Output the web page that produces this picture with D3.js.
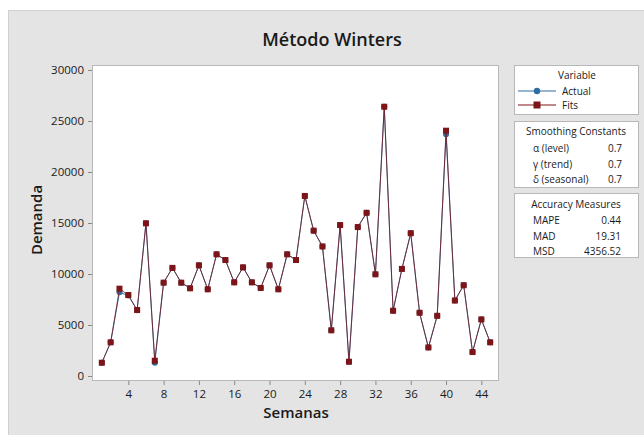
<!DOCTYPE html>
<html>
<head>
<meta charset="utf-8">
<script src="https://cdn.jsdelivr.net/npm/d3@7"></script>
<style>
  body { margin: 0; background: #fff; }
  text { font-family: "Open Sans", "Noto Sans", sans-serif; fill: #1a1a1a; }
</style>
</head>
<body>
<svg id="chart" width="644" height="435"></svg>
<script>
const periods = d3.range(1, 46);
const actual = [1300, 3300, 8200, 7900, 6450, 14970, 1300, 9150, 10600, 9150,
  8600, 10850, 8500, 11930, 11370, 9180, 10650, 9180, 8630, 10850,
  8500, 11930, 11370, 17650, 14250, 12700, 4480, 14800, 1400, 14600,
  16000, 9970, 26400, 6400, 10500, 14000, 6200, 2800, 5900, 23700,
  7400, 8900, 2350, 5550, 3300];
const fits = [1300, 3300, 8560, 7940, 6470, 14970, 1500, 9150, 10600, 9150,
  8600, 10850, 8500, 11930, 11370, 9180, 10650, 9180, 8630, 10850,
  8500, 11930, 11370, 17650, 14250, 12700, 4480, 14800, 1400, 14600,
  16000, 9970, 26400, 6400, 10500, 14000, 6200, 2800, 5900, 24050,
  7400, 8900, 2350, 5550, 3300];
const xTicks = [4, 8, 12, 16, 20, 24, 28, 32, 36, 40, 44];
const yTicks = [0, 5000, 10000, 15000, 20000, 25000, 30000];
const smoothing = [["α (level)", "0.7"], ["γ (trend)", "0.7"], ["δ (seasonal)", "0.7"]];
const accuracy = [["MAPE", "0.44"], ["MAD", "19.31"], ["MSD", "4356.52"]];

const ACTUAL_COLOR = "#2f6da3";
const FITS_COLOR = "#7d1518";

const svg = d3.select("#chart");

// gray panel
svg.append("rect")
  .attr("x", 8.5).attr("y", 10.5)
  .attr("width", 640).attr("height", 430)
  .attr("fill", "#e4e4e4")
  .attr("stroke", "#d0d0d0");

const x = d3.scaleLinear().domain([0, 46]).range([93, 499]);
const y = d3.scaleLinear().domain([-490, 30490]).range([381, 65]);

svg.append("rect")
  .attr("x", 92.5).attr("y", 65.5)
  .attr("width", 406).attr("height", 315)
  .attr("fill", "#fff")
  .attr("stroke", "#b8b8b8");

const xAxis = svg.append("g")
  .attr("transform", "translate(0,381)")
  .call(d3.axisBottom(x).tickValues(xTicks).tickSize(4).tickPadding(5));
const yAxis = svg.append("g")
  .attr("transform", "translate(92,0)")
  .call(d3.axisLeft(y).tickValues(yTicks).tickSize(4).tickPadding(4).tickFormat(d3.format("d")));

[xAxis, yAxis].forEach((g) => {
  g.select(".domain").remove();
  g.selectAll("line").attr("stroke", "#888");
  g.selectAll("text")
    .attr("font-size", 11.5)
    .attr("fill", "#1a1a1a")
    .style("font-family", "'Open Sans', 'Noto Sans', sans-serif");
});

const line = d3.line().x((d) => x(d[0])).y((d) => y(d[1]));

svg.append("path")
  .datum(periods.map((p, i) => [p, actual[i]]))
  .attr("d", line)
  .attr("fill", "none")
  .attr("stroke", ACTUAL_COLOR)
  .attr("stroke-width", 1);

svg.selectAll("circle.actual")
  .data(periods.map((p, i) => [p, actual[i]]))
  .join("circle")
  .attr("class", "actual")
  .attr("cx", (d) => x(d[0]))
  .attr("cy", (d) => y(d[1]))
  .attr("r", 3)
  .attr("fill", ACTUAL_COLOR);

svg.append("path")
  .datum(periods.map((p, i) => [p, fits[i]]))
  .attr("d", line)
  .attr("fill", "none")
  .attr("stroke", FITS_COLOR)
  .attr("stroke-width", 1)
  .attr("stroke-opacity", 0.75);

svg.selectAll("rect.fits")
  .data(periods.map((p, i) => [p, fits[i]]))
  .join("rect")
  .attr("class", "fits")
  .attr("x", (d) => x(d[0]) - 3)
  .attr("y", (d) => y(d[1]) - 3)
  .attr("width", 6)
  .attr("height", 6)
  .attr("fill", FITS_COLOR);

// titles
svg.append("text")
  .attr("x", 332).attr("y", 46)
  .attr("text-anchor", "middle")
  .attr("font-size", 18)
  .attr("font-weight", 600)
  .text("Método Winters");

svg.append("text")
  .attr("x", 296).attr("y", 418)
  .attr("text-anchor", "middle")
  .attr("font-size", 15)
  .attr("font-weight", 600)
  .text("Semanas");

svg.append("text")
  .attr("transform", "translate(42,220) rotate(-90)")
  .attr("text-anchor", "middle")
  .attr("font-size", 15)
  .attr("font-weight", 600)
  .text("Demanda");

// legend panels
const panels = [
  { y: 65, h: 49 },
  { y: 121, h: 66 },
  { y: 193, h: 64 },
];
svg.selectAll("rect.panel")
  .data(panels)
  .join("rect")
  .attr("class", "panel")
  .attr("x", 514.5)
  .attr("y", (d) => d.y + 0.5)
  .attr("width", 124)
  .attr("height", (d) => d.h)
  .attr("fill", "#fff")
  .attr("stroke", "#b8b8b8");

const legendFont = 10;
svg.append("text").attr("x", 577).attr("y", 79)
  .attr("text-anchor", "middle").attr("font-size", legendFont).text("Variable");

const legendItems = [
  { name: "Actual", color: ACTUAL_COLOR, shape: "circle", ly: 91 },
  { name: "Fits", color: FITS_COLOR, shape: "square", ly: 105 },
];
legendItems.forEach((item) => {
  svg.append("line")
    .attr("x1", 518).attr("x2", 556)
    .attr("y1", item.ly).attr("y2", item.ly)
    .attr("stroke", item.color).attr("stroke-width", 1.2);
  if (item.shape === "circle") {
    svg.append("circle").attr("cx", 537).attr("cy", item.ly).attr("r", 3.2).attr("fill", item.color);
  } else {
    svg.append("rect").attr("x", 533.5).attr("y", item.ly - 3.5)
      .attr("width", 7).attr("height", 7).attr("fill", item.color);
  }
  svg.append("text").attr("x", 562).attr("y", item.ly + 3.5)
    .attr("font-size", legendFont).text(item.name);
});

svg.append("text").attr("x", 576).attr("y", 135)
  .attr("text-anchor", "middle").attr("font-size", legendFont).text("Smoothing Constants");
smoothing.forEach((row, i) => {
  const ry = 152 + i * 15.5;
  svg.append("text").attr("x", 533).attr("y", ry).attr("font-size", legendFont).text(row[0]);
  svg.append("text").attr("x", 622).attr("y", ry).attr("text-anchor", "end")
    .attr("font-size", legendFont).text(row[1]);
});

svg.append("text").attr("x", 576).attr("y", 208)
  .attr("text-anchor", "middle").attr("font-size", legendFont).text("Accuracy Measures");
accuracy.forEach((row, i) => {
  const ry = 224 + i * 15.5;
  svg.append("text").attr("x", 533).attr("y", ry).attr("font-size", legendFont).text(row[0]);
  svg.append("text").attr("x", 621).attr("y", ry).attr("text-anchor", "end")
    .attr("font-size", legendFont).text(row[1]);
});
</script>
</body>
</html>
